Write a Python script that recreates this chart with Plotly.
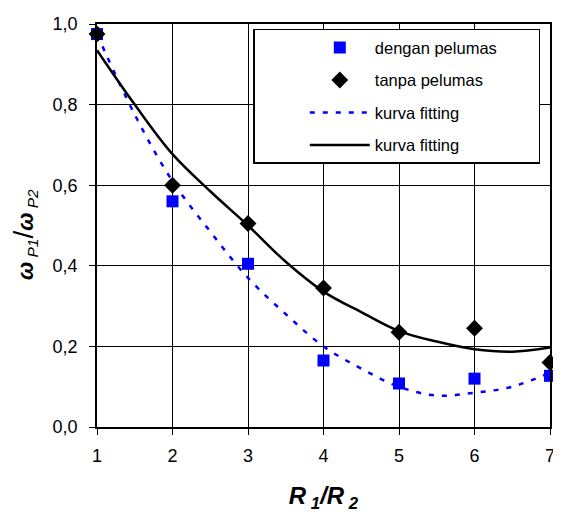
import plotly.graph_objects as go

# data
x_points = [1, 2, 3, 4, 5, 6, 7]
dengan_pelumas = [0.975, 0.56, 0.405, 0.165, 0.108, 0.12, 0.127]
tanpa_pelumas = [0.975, 0.60, 0.505, 0.345, 0.235, 0.245, 0.16]

x_fit = [1, 1.5, 2, 2.5, 3, 3.5, 4, 4.5, 5, 5.5, 6, 6.5, 7]
fit_dengan = [0.975, 0.775, 0.61, 0.485, 0.37, 0.28, 0.20, 0.145, 0.10, 0.078, 0.085, 0.10, 0.135]
fit_tanpa = [0.935, 0.80, 0.677, 0.585, 0.50, 0.41, 0.336, 0.285, 0.238, 0.212, 0.193, 0.187, 0.197]

x_ticks = [1, 2, 3, 4, 5, 6, 7]
y_ticks = [0.0, 0.2, 0.4, 0.6, 0.8, 1.0]
y_ticklabels = ["0,0", "0,2", "0,4", "0,6", "0,8", "1,0"]

FONT = "Liberation Sans, Arial, sans-serif"
PAD = "&nbsp;"

fig = go.Figure()
fig.add_trace(go.Scatter(
    x=x_fit, y=fit_dengan, mode="lines", name="kurva fitting",
    line=dict(color="#0000FF", width=2.5, dash="5px,8px", shape="spline"),
    legendgroup="c", legendrank=3,
))
fig.add_trace(go.Scatter(
    x=x_fit, y=fit_tanpa, mode="lines", name="kurva fitting",
    line=dict(color="black", width=2.5, shape="spline"),
    legendgroup="d", legendrank=4,
))
fig.add_trace(go.Scatter(
    x=x_points, y=dengan_pelumas, mode="markers", name="dengan pelumas" + PAD * 8,
    marker=dict(symbol="square", color="#0000FF", size=12),
    cliponaxis=False, legendgroup="a", legendrank=1,
))
fig.add_trace(go.Scatter(
    x=x_points, y=tanpa_pelumas, mode="markers", name="tanpa pelumas",
    marker=dict(symbol="diamond", color="black", size=13),
    cliponaxis=False, legendgroup="b", legendrank=2,
))

fig.update_layout(
    width=553, height=506,
    margin=dict(l=89, r=6, t=11, b=87),
    paper_bgcolor="white", plot_bgcolor="white",
    font=dict(family=FONT, size=18, color="black"),
    showlegend=True,
    legend=dict(
        x=0.345, y=0.988, xanchor="left", yanchor="top",
        bgcolor="white", bordercolor="black", borderwidth=1.5,
        font=dict(family=FONT, size=16.5, color="black"),
        traceorder="grouped", tracegroupgap=8,
        itemwidth=60,
        title=dict(text=PAD * 9, side="left", font=dict(size=16)),
    ),
    xaxis=dict(
        range=[1, 7], tickvals=x_ticks, ticktext=[str(v) for v in x_ticks],
        showgrid=True, gridcolor="black", gridwidth=1,
        showline=True, linecolor="black", linewidth=1.5, mirror=True,
        ticks="outside", ticklen=6, tickcolor="black",
        ticklabelstandoff=6,
        zeroline=False,
        tickfont=dict(size=18),
        title=dict(text="<b><i>R</i></b><sub><b><i> 1</i></b></sub><b><i>/R</i></b><sub><b><i> 2</i></b></sub>",
                   font=dict(size=24), standoff=22),
    ),
    yaxis=dict(
        range=[0, 1], tickvals=y_ticks, ticktext=y_ticklabels,
        showgrid=True, gridcolor="black", gridwidth=1,
        showline=True, linecolor="black", linewidth=1.5, mirror=True,
        ticks="outside", ticklen=6, tickcolor="black",
        ticklabelstandoff=8,
        zeroline=False,
        tickfont=dict(size=18),
        title=dict(text="<b><i>ω</i></b><sub><i> P1</i></sub><span style='font-size:28px'>/</span><b><i>ω</i></b><sub><i> P2</i></sub>" + PAD * 3,
                   font=dict(size=22), standoff=13),
    ),
)

fig.write_html("out.html")
